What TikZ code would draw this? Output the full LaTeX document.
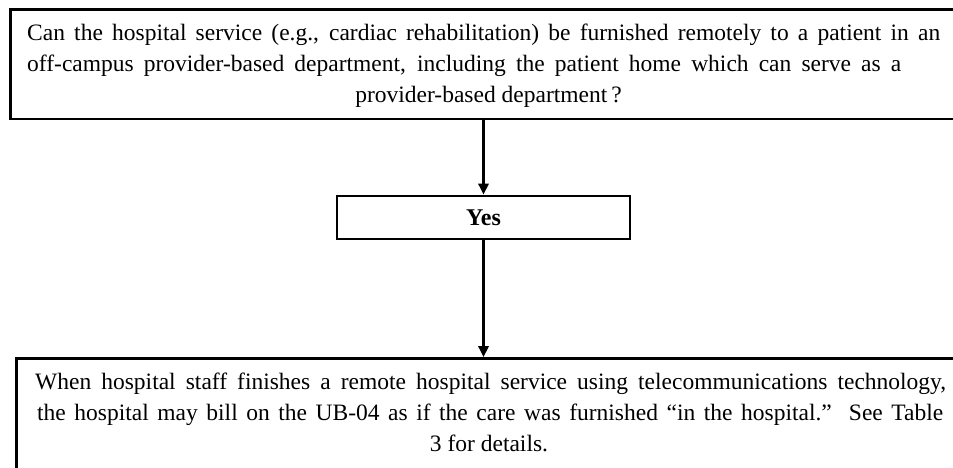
\documentclass[tikz,border=0pt]{standalone}
\usepackage{fontspec}
\setmainfont{Liberation Serif}
\usetikzlibrary{arrows.meta}
\tikzset{
  flowbox/.style={draw=black, line width=2.6pt, inner sep=0pt, fill=white},
  txtline/.style={anchor=base west, inner sep=0pt, font=\fontsize{23.5}{31}\selectfont},
  txtmid/.style={anchor=base, inner sep=0pt, font=\fontsize{23.5}{31}\selectfont},
  conn/.style={line width=2.6pt, -{Triangle[width=10pt,length=11pt]}}
}
\begin{document}
\begin{tikzpicture}[x=1pt,y=-1pt]
\useasboundingbox (0,0) rectangle (953,468);
% boxes
\node[flowbox, minimum width=951.7pt, minimum height=109.5pt] (q) at (486.15,64.25) {};
\node[flowbox, minimum width=293pt, minimum height=43pt,
      font=\fontsize{24}{31}\selectfont\bfseries] (yes) at (483.5,217.5) {Yes};
\node[flowbox, minimum width=945.5pt, minimum height=119.5pt] (res) at (489.25,418.25) {};
% connectors
\draw[conn] (yes.north |- q.south) -- (yes.north);
\draw[conn] (yes.south) -- (yes.south |- res.north);
% question text
\node[txtline] (q1) at (27,41) {\makebox[913pt][s]{Can the hospital service (e.g., cardiac rehabilitation) be furnished remotely to a patient in an}};
\node[txtline] (q2) at (27,72) {\makebox[874pt][s]{off-campus provider-based department, including the patient home which can serve as a}};
\node[txtmid] (q3) at (488.5,103) {provider-based department\,?};
% result text
\node[txtline] (r1) at (35,389) {\makebox[911pt][s]{When hospital staff finishes a remote hospital service using telecommunications technology,}};
\node[txtline] (r2) at (37,420) {\makebox[906pt][s]{the hospital may bill on the UB-04 as if the care was furnished “in the hospital.”\ \ See Table}};
\node[txtmid] (r3) at (489,451) {3 for details.};
\end{tikzpicture}
\end{document}
